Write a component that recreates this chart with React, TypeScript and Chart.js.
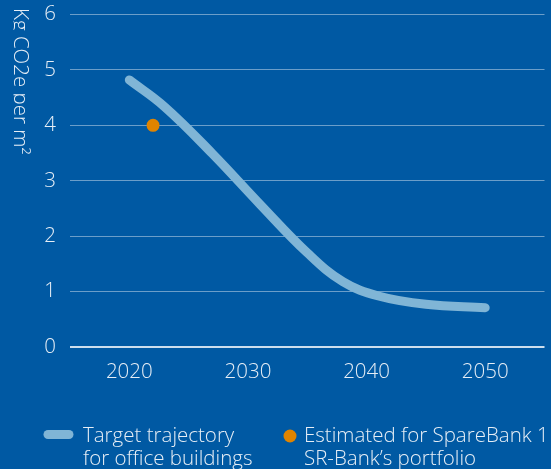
import { useEffect, useRef } from "react";
import { Chart, registerables } from "chart.js";

Chart.register(...registerables);

// Target trajectory for office buildings (kg CO2e per m²)
const TARGET_YEARS = [2020, 2023, 2027, 2031, 2035, 2038, 2041, 2045, 2050];
const TARGET_VALUES = [4.82, 4.33, 3.49, 2.58, 1.70, 1.18, 0.92, 0.77, 0.71];

// Estimated intensity for the bank's portfolio
const ESTIMATE_YEARS = [2022];
const ESTIMATE_VALUES = [4.0];

const X_TICKS = [2020, 2030, 2040, 2050];
const Y_TICKS = [0, 1, 2, 3, 4, 5, 6];

const Y_TITLE = "Kg CO2e per m²";
const LEGEND_TARGET = ["Target trajectory", "for office buildings"];
const LEGEND_ESTIMATE = ["Estimated for SpareBank 1", "SR-Bank’s portfolio"];

const BG = "#0059a3";
const TEXT = "#e6eef6";
const LINE_BLUE = "#80b5d6";
const ORANGE = "#e08400";
const FONT_FAMILY = '"Open Sans", "Noto Sans", sans-serif';
const FONT_SIZE = 20.5;
const FONT_WEIGHT = 300;
const CANVAS_FONT = `${FONT_WEIGHT} ${FONT_SIZE}px ${FONT_FAMILY}`;

const backgroundPlugin = {
  id: "bgFill",
  beforeDraw(chart: Chart) {
    const { ctx, width, height } = chart;
    ctx.save();
    ctx.fillStyle = BG;
    ctx.fillRect(0, 0, width, height);
    ctx.restore();
  },
};

// Vertical axis title, read top to bottom along the left edge
const yTitlePlugin = {
  id: "yTitle",
  afterDraw(chart: Chart) {
    const { ctx, height } = chart;
    ctx.save();
    ctx.beginPath();
    ctx.rect(13.5, 0, 40, height);
    ctx.clip();
    ctx.translate(13.5, 8);
    ctx.rotate(Math.PI / 2);
    ctx.font = CANVAS_FONT;
    ctx.fillStyle = TEXT;
    ctx.textAlign = "left";
    ctx.textBaseline = "alphabetic";
    ctx.fillText(Y_TITLE, 0, 0);
    ctx.restore();
  },
};

// Two-line legend entries below the x axis
const legendPlugin = {
  id: "twoLineLegend",
  afterDraw(chart: Chart) {
    const { ctx } = chart;
    const row1 = 442;
    const lineGap = 23;
    ctx.save();
    // swatch: thick rounded line
    ctx.strokeStyle = LINE_BLUE;
    ctx.lineWidth = 9;
    ctx.lineCap = "round";
    ctx.beginPath();
    ctx.moveTo(48, 434.5);
    ctx.lineTo(69, 434.5);
    ctx.stroke();
    // swatch: dot
    ctx.fillStyle = ORANGE;
    ctx.beginPath();
    ctx.arc(290, 436, 6.5, 0, Math.PI * 2);
    ctx.fill();

    ctx.font = CANVAS_FONT;
    ctx.fillStyle = TEXT;
    ctx.textAlign = "left";
    ctx.textBaseline = "alphabetic";
    LEGEND_TARGET.forEach((t, i) => ctx.fillText(t, 83, row1 + i * lineGap));
    LEGEND_ESTIMATE.forEach((t, i) => ctx.fillText(t, 304, row1 + i * lineGap));
    ctx.restore();
  },
};

export default function App() {
  const ref = useRef<HTMLCanvasElement>(null);

  useEffect(() => {
    document.body.style.margin = "0";
    document.body.style.background = BG;
    const canvas = ref.current;
    if (!canvas) return;

    const tickFont = { family: FONT_FAMILY, size: FONT_SIZE, weight: FONT_WEIGHT };

    const chart = new Chart(canvas, {
      type: "line",
      data: {
        datasets: [
          {
            label: "Estimated",
            data: ESTIMATE_YEARS.map((x, i) => ({ x, y: ESTIMATE_VALUES[i] })),
            showLine: false,
            pointRadius: 6.5,
            pointHoverRadius: 6.5,
            pointBackgroundColor: ORANGE,
            pointBorderWidth: 0,
            borderColor: ORANGE,
            order: 0,
          },
          {
            label: "Target",
            data: TARGET_YEARS.map((x, i) => ({ x, y: TARGET_VALUES[i] })),
            borderColor: LINE_BLUE,
            borderWidth: 9,
            borderCapStyle: "round",
            borderJoinStyle: "round",
            tension: 0.4,
            pointRadius: 0,
            fill: false,
            order: 1,
          },
        ],
      },
      options: {
        animation: false,
        responsive: false,
        devicePixelRatio: 1,
        layout: { padding: { top: 14.5, right: 2, bottom: 75, left: 0 } },
        plugins: {
          legend: { display: false },
          tooltip: { enabled: false },
        },
        scales: {
          x: {
            type: "linear",
            min: 2015,
            max: 2055,
            afterBuildTicks: (scale: any) => {
              scale.ticks = X_TICKS.map((value) => ({ value }));
            },
            afterFit: (scale: any) => {
              scale.height = 47;
            },
            grid: { display: false, drawTicks: false },
            border: { display: false },
            ticks: {
              color: TEXT,
              font: tickFont,
              padding: 13,
              maxRotation: 0,
              callback: (v: any) => String(v),
            },
          },
          y: {
            min: 0,
            max: 6,
            afterBuildTicks: (scale: any) => {
              scale.ticks = Y_TICKS.map((value) => ({ value }));
            },
            afterFit: (scale: any) => {
              scale.width = 70;
              scale.paddingTop = 0;
              scale.paddingBottom = 0;
            },
            grid: {
              drawTicks: false,
              color: (c: any) => (c.tick && c.tick.value === 0 ? "rgba(255,255,255,0.8)" : "rgba(255,255,255,0.42)"),
              lineWidth: (c: any) => (c.tick && c.tick.value === 0 ? 2 : 1),
            },
            border: { display: false },
            ticks: {
              color: TEXT,
              font: tickFont,
              padding: 14,
              callback: (v: any) => String(v),
            },
          },
        },
      },
      plugins: [backgroundPlugin, yTitlePlugin, legendPlugin],
    } as any);

    return () => chart.destroy();
  }, []);

  return (
    <div style={{ width: 551, height: 469, background: BG }}>
      <canvas ref={ref} width={551} height={469} style={{ display: "block", width: 551, height: 469 }} />
    </div>
  );
}
